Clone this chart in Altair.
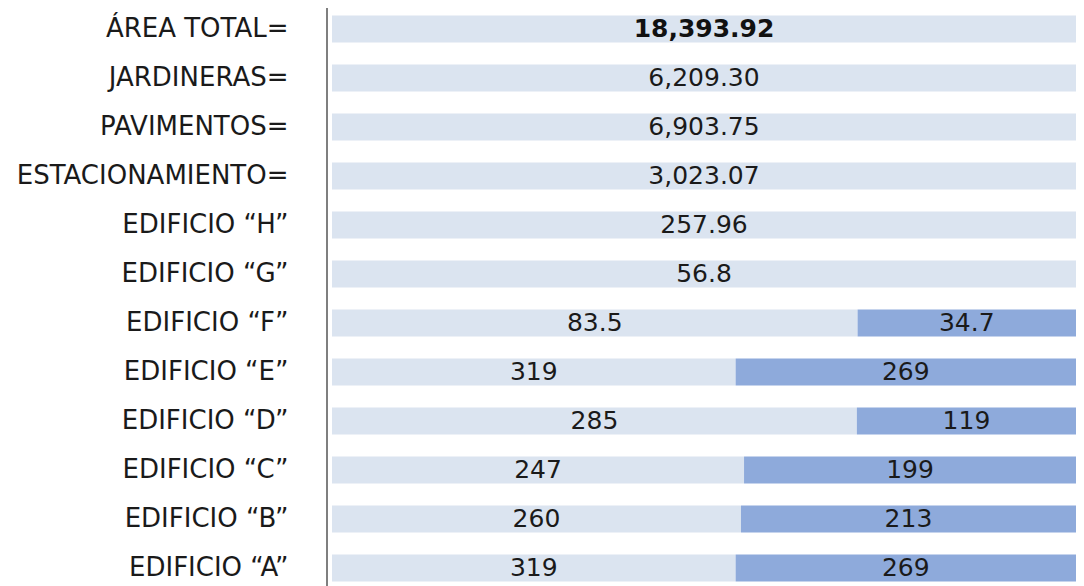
import altair as alt
import pandas as pd

categories = ["ÁREA TOTAL=", "JARDINERAS=", "PAVIMENTOS=", "ESTACIONAMIENTO=",
              "EDIFICIO “H”", "EDIFICIO “G”", "EDIFICIO “F”", "EDIFICIO “E”",
              "EDIFICIO “D”", "EDIFICIO “C”", "EDIFICIO “B”", "EDIFICIO “A”"]
first_values = [18393.92, 6209.30, 6903.75, 3023.07, 257.96, 56.8, 83.5, 319, 285, 247, 260, 319]
first_labels = ["18,393.92", "6,209.30", "6,903.75", "3,023.07", "257.96", "56.8",
                "83.5", "319", "285", "247", "260", "319"]
second_values = [None, None, None, None, None, None, 34.7, 269, 119, 199, 213, 269]
second_labels = ["", "", "", "", "", "", "34.7", "269", "119", "199", "213", "269"]

rows = []
for i, c in enumerate(categories):
    rows.append({"cat": c, "seg": "a", "order": 1, "value": first_values[i],
                 "label": first_labels[i], "bold": i == 0})
    if second_values[i] is not None:
        rows.append({"cat": c, "seg": "b", "order": 2, "value": second_values[i],
                     "label": second_labels[i], "bold": False})
df = pd.DataFrame(rows)

FONT = "DejaVu Sans"
FS = 25
LFS = 26

base = alt.Chart(df).transform_stack(
    stack="value", groupby=["cat"], as_=["x0", "x1"], offset="normalize",
    sort=[alt.SortField("order", order="ascending")]
).transform_calculate(mid="(datum.x0 + datum.x1) / 2")

yenc = alt.Y("cat:N", sort=categories, title=None,
             scale=alt.Scale(range=[7.5, 573.5], paddingInner=0.45, paddingOuter=0),
             axis=alt.Axis(domain=False, ticks=False, grid=False, labelFontSize=LFS,
                           labelFont=FONT, labelColor="#1a1a1a", labelPadding=44,
                           labelLimit=400))

xscale = alt.Scale(domain=[0, 1], nice=False)

bars = base.mark_bar().encode(
    y=yenc,
    x=alt.X("x0:Q", scale=xscale, axis=None),
    x2="x1:Q",
    color=alt.Color("seg:N", scale=alt.Scale(domain=["a", "b"], range=["#dbe4f0", "#8eaadb"]),
                    legend=None),
)

texts = base.transform_filter("!datum.bold").mark_text(
    font=FONT, fontSize=FS, color="#1a1a1a", baseline="middle", align="center"
).encode(
    y=alt.Y("cat:N", sort=categories),
    x=alt.X("mid:Q", scale=xscale),
    text="label:N",
)

bold_texts = base.transform_filter("datum.bold").mark_text(
    font=FONT, fontSize=FS, fontWeight="bold", color="#111111", baseline="middle", align="center"
).encode(
    y=alt.Y("cat:N", sort=categories),
    x=alt.X("mid:Q", scale=xscale),
    text="label:N",
)

axis_line = alt.Chart(df).mark_rule(color="#7f7f7f", strokeWidth=1.5).encode(
    x=alt.value(-5), y=alt.value(0), y2=alt.value(578)
)

chart = alt.layer(bars, texts, bold_texts, axis_line).properties(
    width=744, height=578,
    autosize=alt.AutoSizeParams(type="none"),
    padding={"left": 324, "top": 0, "right": 0, "bottom": 0},
    background="white",
).configure_view(stroke=None)

chart.save("out.html", embed_options={"renderer": "svg", "actions": False})
